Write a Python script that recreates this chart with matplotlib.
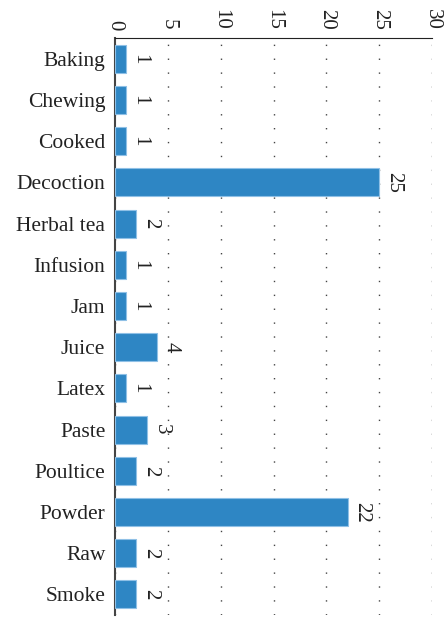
import matplotlib
matplotlib.use("Agg")
import matplotlib.pyplot as plt
import numpy as np

categories = ["Baking", "Chewing", "Cooked", "Decoction", "Herbal tea", "Infusion",
              "Jam", "Juice", "Latex", "Paste", "Poultice", "Powder", "Raw", "Smoke"]
counts = [1, 1, 1, 25, 2, 1, 1, 4, 1, 3, 2, 22, 2, 2]
x_ticks = [0, 5, 10, 15, 20, 25, 30]

plt.rcParams["font.family"] = ["Liberation Serif", "DejaVu Serif"]

fig = plt.figure(figsize=(4.46, 6.18), dpi=100)
ax = fig.add_axes([0.258, 0.005, 0.711, 0.933])

y = np.arange(len(categories))
ax.barh(y, counts, height=0.68, color="#2e86c4", edgecolor="#8fc0e6", linewidth=0.8, zorder=3)
for yi, v in zip(y, counts):
    ax.text(v + 0.45, yi, str(v), rotation=-90, ha="left", va="center",
            fontsize=15, color="#222222")

ax.set_xlim(0, 30)
ax.set_ylim(len(categories) - 0.5, -0.5)
ax.set_xticks(x_ticks)
ax.xaxis.tick_top()
ax.tick_params(axis="x", length=0, pad=6, labelsize=15, labelrotation=-90, colors="#222222")
ax.tick_params(axis="y", length=0, pad=7, labelsize=15.5, colors="#222222")
ax.set_yticks(y)
ax.set_yticklabels(categories)
for lab in ax.get_xticklabels():
    lab.set_va("bottom")
    lab.set_ha("center")

ax.grid(axis="x", linestyle=(0, (1, 9)), color="#444444", linewidth=1.0, zorder=0)
ax.spines["right"].set_visible(False)
ax.spines["bottom"].set_visible(False)
ax.spines["top"].set_color("#222222")
ax.spines["left"].set_color("#444444")
ax.spines["left"].set_linewidth(1.5)

fig.savefig("out.png", dpi=100)
